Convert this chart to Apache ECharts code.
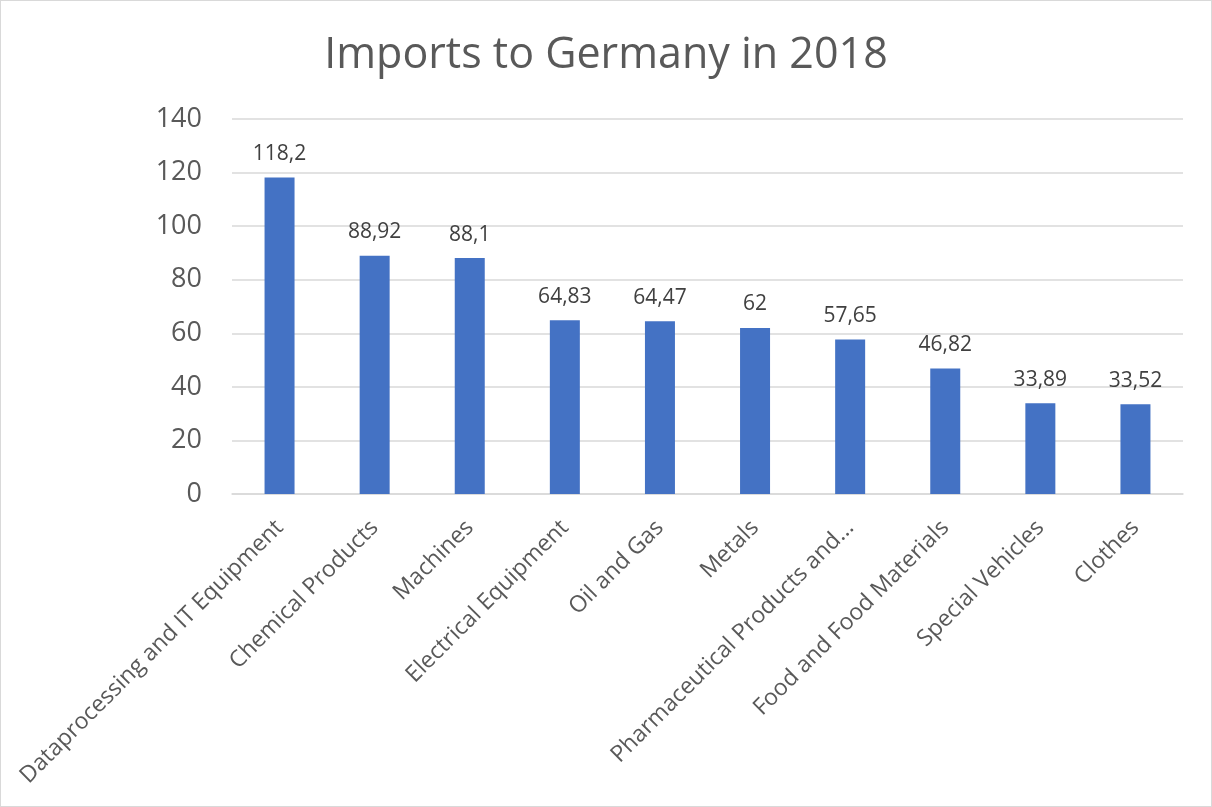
<!DOCTYPE html>
<html>
<head>
<meta charset="utf-8">
<script src="https://cdn.jsdelivr.net/npm/echarts@6/dist/echarts.min.js"></script>
<style>
html,body{margin:0;padding:0;background:#fff;}
#frame{position:absolute;left:0;top:0;width:1210px;height:805px;border:1px solid #d9d9d9;}
#chart{position:absolute;left:0;top:0;width:1212px;height:807px;}
</style>
</head>
<body>
<div id="frame"></div>
<div id="chart"></div>
<script>
const titleText = "Imports to Germany in 2018";
const categories = [
  "Dataprocessing and IT Equipment",
  "Chemical Products",
  "Machines",
  "Electrical Equipment",
  "Oil and Gas",
  "Metals",
  "Pharmaceutical Products and...",
  "Food and Food Materials",
  "Special Vehicles",
  "Clothes"
];
const importValues = [118.2, 88.92, 88.1, 64.83, 64.47, 62, 57.65, 46.82, 33.89, 33.52];
const yTicks = { min: 0, max: 140, interval: 20 };

const chart = echarts.init(document.getElementById('chart'), null, {renderer: 'canvas'});
const font = '"Open Sans", "Noto Sans", sans-serif';
chart.setOption({
  animation: false,
  backgroundColor: 'transparent',
  title: {
    text: titleText,
    left: 'center',
    top: 29,
    textStyle: { fontFamily: font, fontSize: 43, fontWeight: 'normal', color: '#595959' }
  },
  grid: { left: 232, right: 29, top: 119, bottom: 313, containLabel: false },
  xAxis: {
    type: 'category',
    data: categories,
    axisLine: { show: true, lineStyle: { color: '#d9d9d9', width: 1.5 } },
    axisTick: { show: false },
    axisLabel: {
      interval: 0,
      rotate: 45,
      margin: 30,
      fontFamily: font,
      fontSize: 23,
      color: '#595959'
    }
  },
  yAxis: {
    type: 'value',
    min: yTicks.min,
    max: yTicks.max,
    interval: yTicks.interval,
    axisLine: { show: false },
    axisTick: { show: false },
    splitLine: { lineStyle: { color: '#d9d9d9', width: 1.5 } },
    axisLabel: { margin: 30, fontFamily: font, fontSize: 27, color: '#595959' }
  },
  series: [{
    type: 'bar',
    data: importValues,
    barWidth: 30,
    itemStyle: { color: '#4472C4' },
    label: {
      show: true,
      position: 'top',
      distance: 13,
      fontFamily: font,
      fontSize: 21,
      color: '#404040',
      formatter: p => String(p.value).replace('.', ',')
    }
  }]
});
</script>
</body>
</html>
